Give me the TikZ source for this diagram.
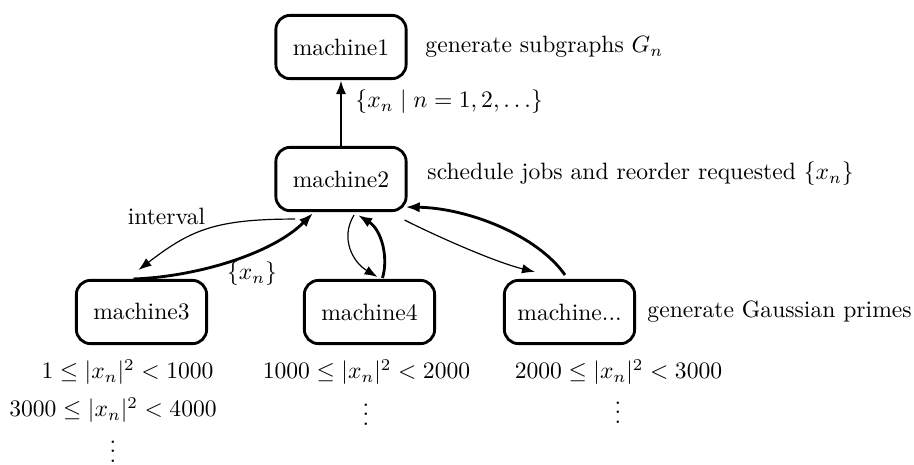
\documentclass[tikz,border=0pt]{standalone}
\usetikzlibrary{arrows.meta,calc}
\begin{document}
\begin{tikzpicture}[x=0.4237pt,y=-0.4237pt,
  machine/.style={draw, line width=1.2pt, rounded corners=6pt,
    minimum width=55.2pt, minimum height=26.8pt, inner sep=0pt},
  note/.style={inner sep=0pt},
  thinarrow/.style={line width=0.5pt, -{Latex[length=5.5pt,width=4pt]}},
  boldarrow/.style={line width=1.2pt, -{Latex[length=6pt,width=4.4pt]}}]
\useasboundingbox (0,0) rectangle (914,464);

% machines
\node[machine] (m1) at (341,47) {machine1};
\node[machine] (m2) at (341,179) {machine2};
\node[machine] (m3) at (141.5,312) {machine3};
\node[machine] (m4) at (369.5,312) {machine4};
\node[machine] (m5) at (569.5,312) {machine...};

% descriptions
\node[note, anchor=west] (d1) at (425,47) {generate subgraphs $G_n$};
\node[note, anchor=west] (d12) at (355,102) {$\{x_n \mid n = 1, 2, \ldots\}$};
\node[note, anchor=west] (d2) at (427,174) {schedule jobs and reorder requested $\{x_n\}$};
\node[note] (lint) at (166.5,216.5) {interval};
\node[note] (lxn) at (252,274) {$\{x_n\}$};
\node[note, anchor=west] (d5) at (647,312) {generate Gaussian primes};

% ranges handled by each worker
\node[note] (r1) at (127.5,372) {$1 \le |x_n|^2 < 1000$};
\node[note] (r2) at (113,410) {$3000 \le |x_n|^2 < 4000$};
\node[note, anchor=base] (r3) at (113,462) {$\vdots$};
\node[note] (r4) at (366.5,372) {$1000 \le |x_n|^2 < 2000$};
\node[note, anchor=base] (r5) at (366,425) {$\vdots$};
\node[note] (r6) at (618.5,372) {$2000 \le |x_n|^2 < 3000$};
\node[note, anchor=base] (r7) at (618,423) {$\vdots$};

% connectors
\draw[boldarrow] (m2) -- (m1);

\draw[thinarrow] ($(m2.south)+(-46,7)$) .. controls +(-80,0) and +(52,-40) .. ($(m3.north)+(-3,-9)$);
\draw[boldarrow] ($(m3.north)+(-8,0)$) .. controls +(60,-2) and +(-42,42) .. ($(m2.south)+(-28,1)$);

\draw[thinarrow] ($(m2.south)+(13,3)$) .. controls +(-14,23) and +(-25,-15) .. ($(m4.north)+(8,-2)$);
\draw[boldarrow] ($(m4.north)+(13,-1)$) .. controls +(6,-20) and +(24,15) .. ($(m2.south)+(17,3)$);

\draw[thinarrow] ($(m2.south east)+(-3,8)$) .. controls +(36,18) and +(-40,-10) .. ($(m5.north)+(-34.5,-7)$);
\draw[boldarrow] ($(m5.north)+(-4.5,-4)$) .. controls +(-28,-40) and +(62,1) .. ($(m2.east)+(-2,28)$);
\end{tikzpicture}
\end{document}
